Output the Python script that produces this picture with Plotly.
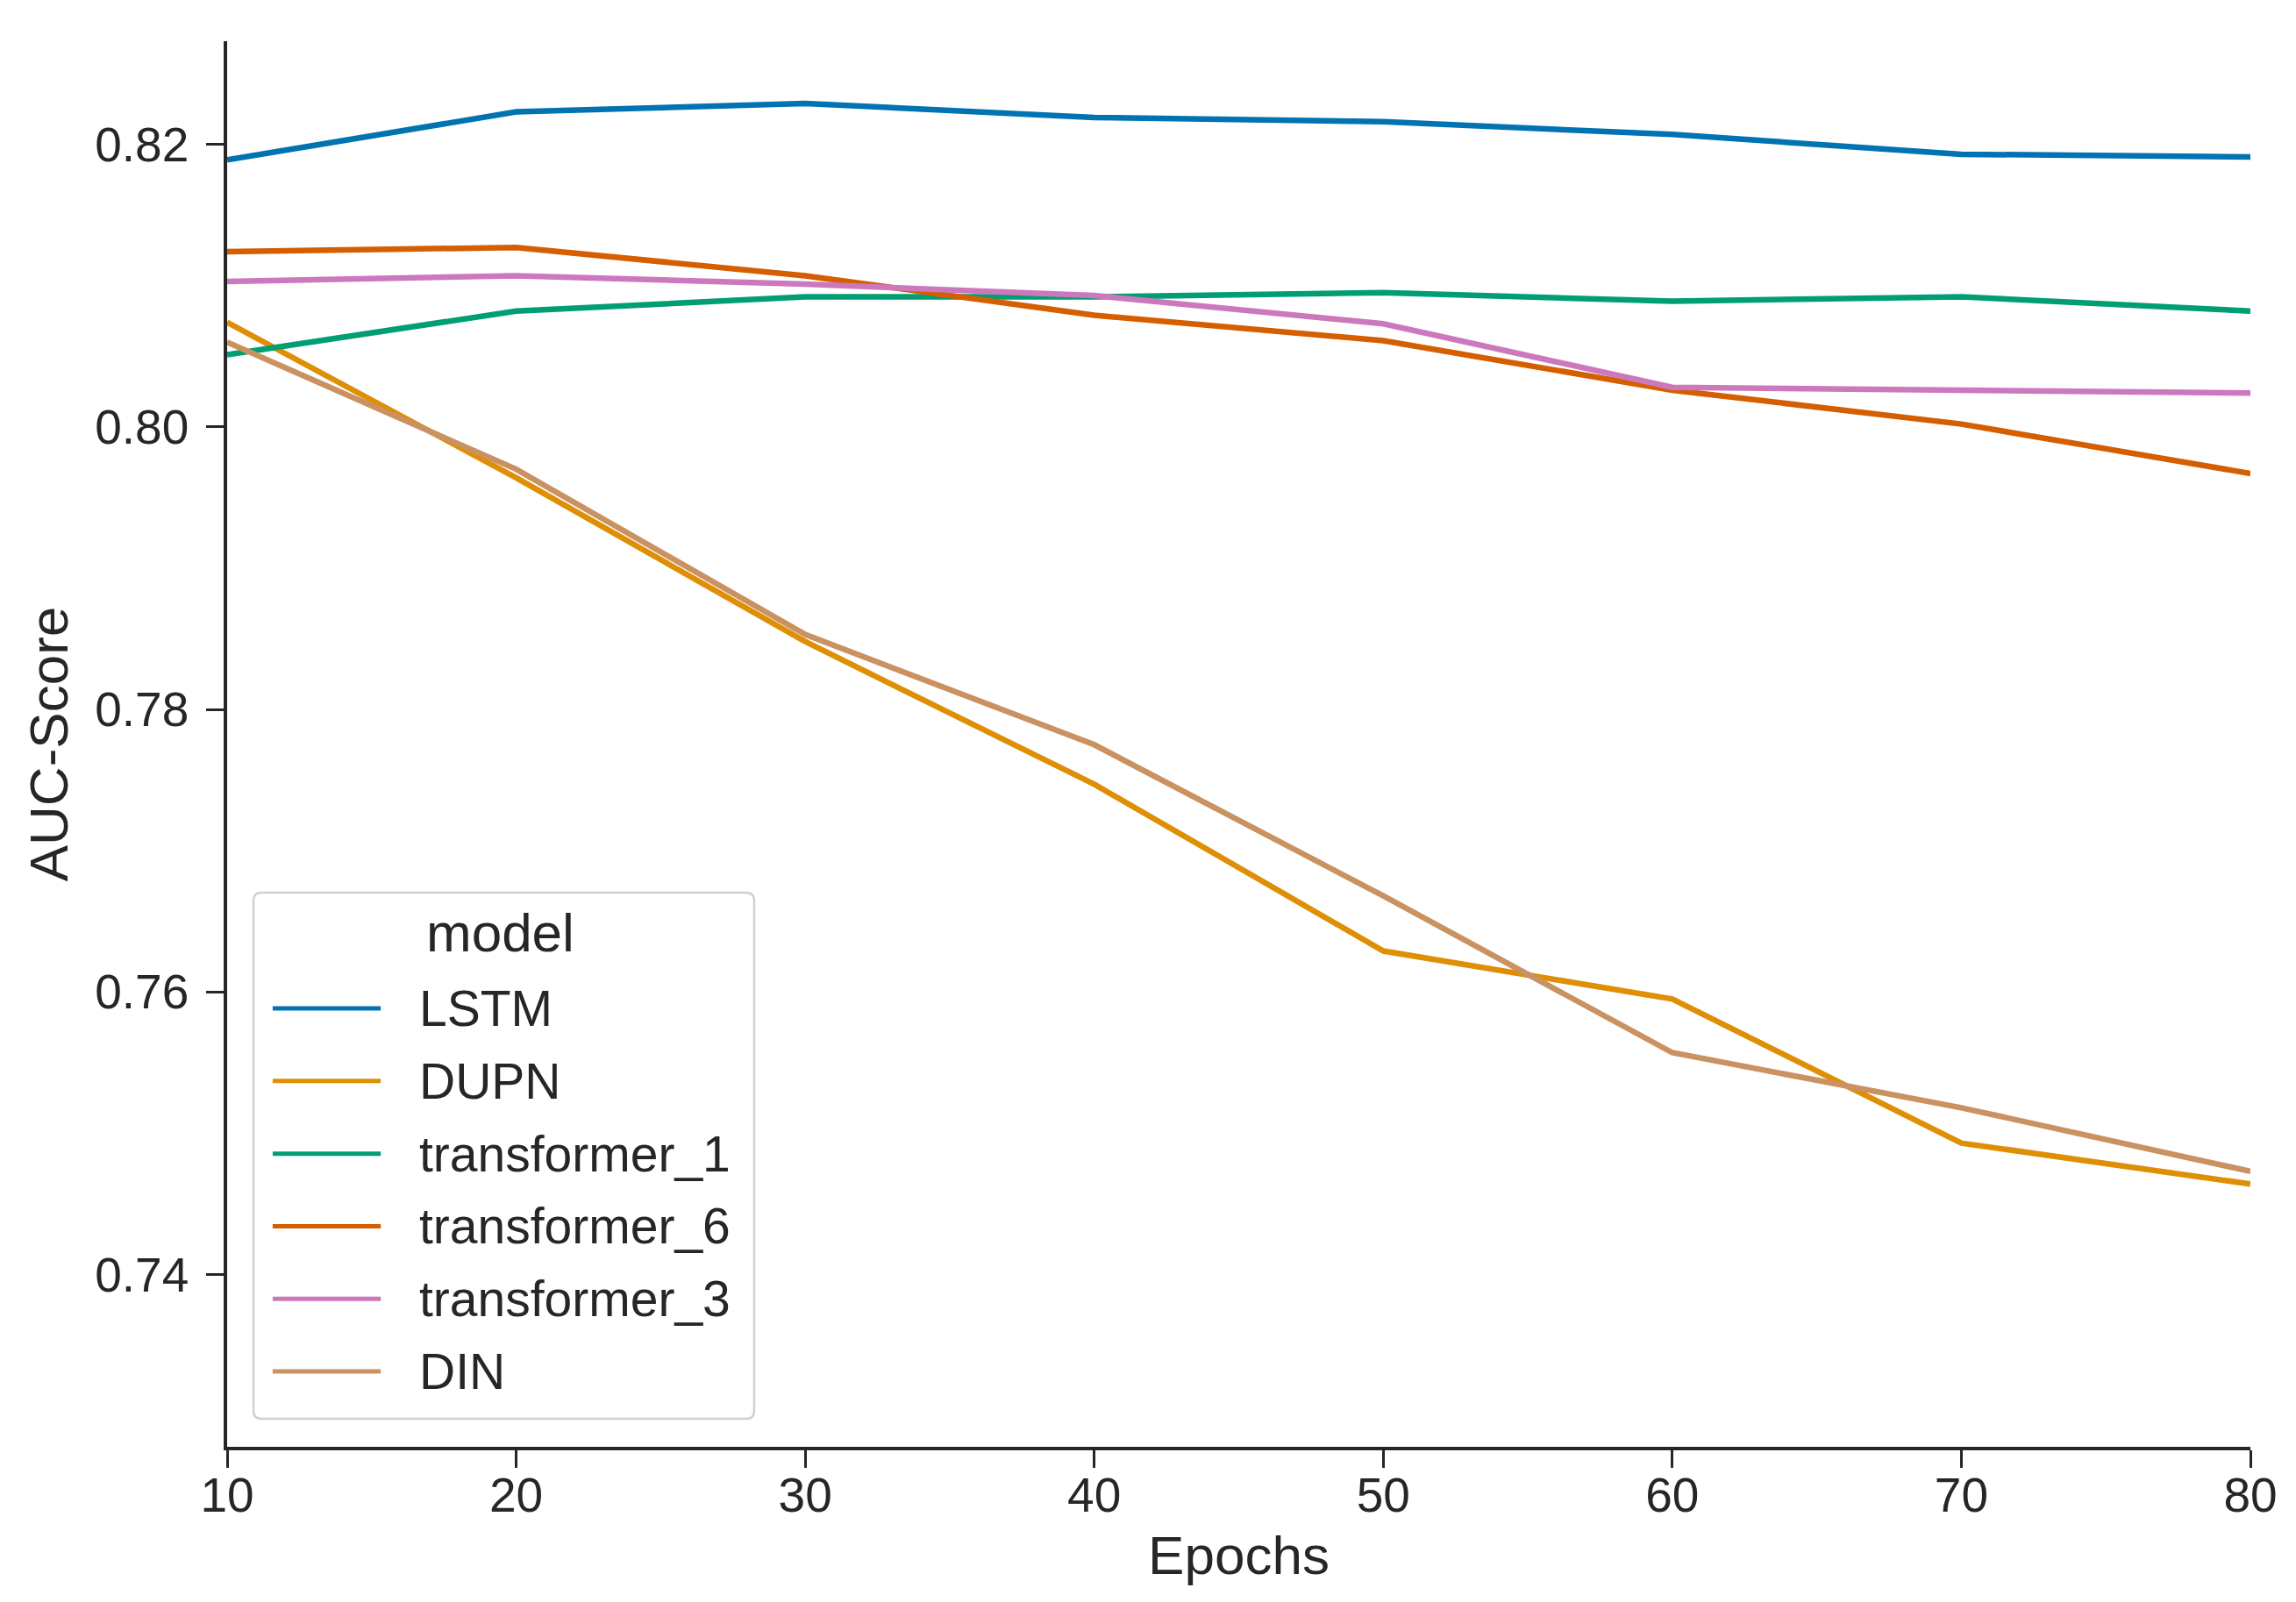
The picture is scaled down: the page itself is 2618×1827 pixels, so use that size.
import plotly.graph_objects as go

epochs = [10, 20, 30, 40, 50, 60, 70, 80]

models = ["LSTM", "DUPN", "transformer_1", "transformer_6", "transformer_3", "DIN"]

lstm = [0.8189, 0.8223, 0.8229, 0.8219, 0.8216, 0.8207, 0.8193, 0.8191]
dupn = [0.8074, 0.7964, 0.7848, 0.7747, 0.7629, 0.7595, 0.7493, 0.7464]
transformer_1 = [0.8051, 0.8082, 0.8092, 0.8092, 0.8095, 0.8089, 0.8092, 0.8082]
transformer_6 = [0.8124, 0.8127, 0.8107, 0.8079, 0.8061, 0.8026, 0.8002, 0.7967]
transformer_3 = [0.8103, 0.8107, 0.8101, 0.8093, 0.8073, 0.8028, 0.8026, 0.8024]
din = [0.8060, 0.7970, 0.7853, 0.7775, 0.7668, 0.7557, 0.7518, 0.7473]

series = [lstm, dupn, transformer_1, transformer_6, transformer_3, din]
colors = ["#0173B2", "#DE8F05", "#029E73", "#D55E00", "#CC78BC", "#CA9161"]

y_ticks = [0.74, 0.76, 0.78, 0.80, 0.82]
y_tick_labels = ["0.74", "0.76", "0.78", "0.80", "0.82"]
x_ticks = [10, 20, 30, 40, 50, 60, 70, 80]

FONT = "Liberation Sans, Arial, sans-serif"
INK = "#262626"

# page body has an 8px default margin
W, H = 2610, 1819
ML, MR, MT, MB = 251, 52, 39, 177

fig = go.Figure()
for name, vals, col in zip(models, series, colors):
    fig.add_trace(go.Scatter(x=epochs, y=vals, mode="lines", name=name,
                             line=dict(color=col, width=6.5), showlegend=False))

fig.update_layout(
    width=W, height=H,
    margin=dict(l=ML, r=MR, t=MT, b=MB),
    paper_bgcolor="white", plot_bgcolor="white",
    font=dict(family=FONT, color=INK),
)
fig.update_xaxes(
    range=[10, 80], tickvals=x_ticks, ticktext=[str(v) for v in x_ticks],
    showgrid=False, zeroline=False, showline=True, linecolor=INK, linewidth=3.5,
    ticks="outside", ticklen=20, tickwidth=3, tickcolor=INK,
    tickfont=dict(size=55, family=FONT, color=INK), ticklabelstandoff=-16,
    title=dict(text="Epochs", font=dict(size=62, family=FONT, color=INK), standoff=18),
)
fig.update_yaxes(
    range=[0.7278, 0.8273], tickvals=y_ticks, ticktext=y_tick_labels,
    showgrid=False, zeroline=False, showline=True, linecolor=INK, linewidth=3.5,
    ticks="outside", ticklen=20, tickwidth=3, tickcolor=INK,
    tickfont=dict(size=55, family=FONT, color=INK), ticklabelstandoff=9,
    title=dict(text="AUC-Score", font=dict(size=62, family=FONT, color=INK), standoff=12),
)

# Legend drawn as a matplotlib-style box (paper coordinates)
bx0, bx1, by0, by1 = 0.0130, 0.2605, 0.0200, 0.3943
rx, ry = 0.0040, 0.0058
path = (f"M{bx0+rx},{by0} L{bx1-rx},{by0} Q{bx1},{by0} {bx1},{by0+ry} "
        f"L{bx1},{by1-ry} Q{bx1},{by1} {bx1-rx},{by1} L{bx0+rx},{by1} "
        f"Q{bx0},{by1} {bx0},{by1-ry} L{bx0},{by0+ry} Q{bx0},{by0} {bx0+rx},{by0} Z")
fig.add_shape(type="path", path=path, xref="paper", yref="paper",
              line=dict(color="#d0d0d0", width=2.5), fillcolor="rgba(255,255,255,0.8)",
              layer="above")
fig.add_annotation(x=0.1352, y=0.3656, xref="paper", yref="paper", text="model",
                   showarrow=False, xanchor="center", yanchor="middle",
                   font=dict(size=62, family=FONT, color=INK))
row0, step = 0.3119, 0.05166
for i, (name, col) in enumerate(zip(models, colors)):
    yy = row0 - i * step
    fig.add_shape(type="line", xref="paper", yref="paper", x0=0.0225, x1=0.0759,
                  y0=yy, y1=yy, line=dict(color=col, width=5), layer="above")
    fig.add_annotation(x=0.0941, y=yy, xref="paper", yref="paper", text=name,
                       showarrow=False, xanchor="left", yanchor="middle",
                       font=dict(size=57, family=FONT, color=INK))

fig.write_html("out.html")
